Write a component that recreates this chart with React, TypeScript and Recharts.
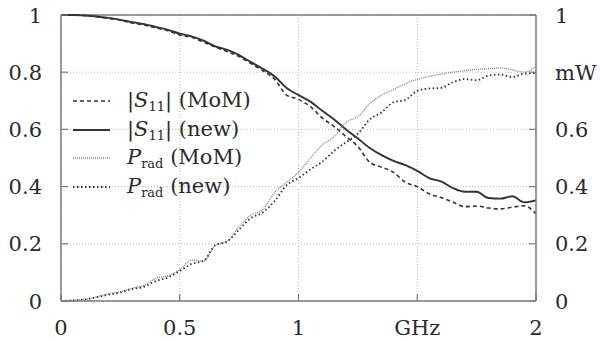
import React from "react";
import {
  LineChart, Line, XAxis, YAxis, CartesianGrid, ReferenceLine, Legend,
} from "recharts";

// frequency grid, GHz
const freq = [
  0, 0.05, 0.1, 0.15, 0.2, 0.25, 0.3, 0.35, 0.4, 0.45, 0.5, 0.55, 0.6, 0.65, 0.7,
  0.75, 0.8, 0.85, 0.9, 0.95, 1, 1.05, 1.1, 1.15, 1.2, 1.25, 1.3, 1.35, 1.4, 1.45,
  1.5, 1.55, 1.6, 1.65, 1.7, 1.75, 1.8, 1.85, 1.9, 1.95, 2,
];

// |S11| reference (MoM) and new method
const s11Mom = [
  1.0, 1.0, 0.998, 0.994, 0.988, 0.982, 0.972, 0.965, 0.955, 0.945, 0.93, 0.922, 0.905,
  0.888, 0.872, 0.855, 0.83, 0.805, 0.775, 0.72, 0.705, 0.68, 0.64, 0.61, 0.575, 0.54,
  0.485, 0.468, 0.45, 0.415, 0.4, 0.375, 0.362, 0.346, 0.33, 0.332, 0.325, 0.322, 0.328,
  0.333, 0.305,
];
const s11New = [
  1.0, 1.0, 0.998, 0.995, 0.99, 0.983, 0.975, 0.968, 0.958, 0.948, 0.935, 0.925, 0.91,
  0.89, 0.878, 0.86, 0.835, 0.812, 0.785, 0.745, 0.72, 0.697, 0.665, 0.635, 0.6, 0.568,
  0.535, 0.51, 0.49, 0.475, 0.455, 0.43, 0.418, 0.395, 0.382, 0.382, 0.36, 0.358, 0.366,
  0.345, 0.352,
];

// radiated power, mW
const pMom = [
  0, 0.002, 0.006, 0.015, 0.025, 0.032, 0.045, 0.055, 0.08, 0.088, 0.11, 0.142, 0.14,
  0.195, 0.21, 0.26, 0.3, 0.32, 0.38, 0.415, 0.45, 0.5, 0.545, 0.575, 0.625, 0.645, 0.69,
  0.72, 0.74, 0.76, 0.775, 0.785, 0.793, 0.8, 0.805, 0.81, 0.812, 0.815, 0.808, 0.8, 0.82,
];
const pNew = [
  0, 0.002, 0.005, 0.013, 0.022, 0.03, 0.042, 0.05, 0.07, 0.082, 0.105, 0.13, 0.14,
  0.195, 0.208, 0.25, 0.29, 0.31, 0.35, 0.405, 0.43, 0.46, 0.487, 0.525, 0.555, 0.585,
  0.635, 0.66, 0.695, 0.703, 0.735, 0.743, 0.745, 0.765, 0.776, 0.772, 0.788, 0.792,
  0.783, 0.795, 0.797,
];

const xTicks = [0, 0.5, 1, 1.5, 2];
const yTicks = [0, 0.2, 0.4, 0.6, 0.8, 1];

const data = freq.map((f, i) => ({
  f, s11Mom: s11Mom[i], s11New: s11New[i], pMom: pMom[i], pNew: pNew[i],
}));

const FONT = "DejaVu Serif";
const INK = "#2a2a2a";
const BORDER = "#7a7a7a";

const xLabel = (v: number) => (v === 1.5 ? "GHz" : String(v));
const rightLabel = (v: number) => (v === 0.8 ? "mW" : String(v));

// gnuplot style: labels outside, short ticks pointing into the plot
function LeftTick({ x, y, payload }: any) {
  return (
    <g>
      <line x1={x + 19} x2={x + 26} y1={y} y2={y} stroke={BORDER} strokeWidth={1.2} />
      <text x={x} y={y} dy="0.36em" textAnchor="end" fill={INK} fontFamily={FONT} fontSize={21}>
        {String(payload.value)}
      </text>
    </g>
  );
}
function RightTick({ x, y, payload }: any) {
  return (
    <g>
      <line x1={x - 19} x2={x - 26} y1={y} y2={y} stroke={BORDER} strokeWidth={1.2} />
      <text x={x} y={y} dy="0.36em" textAnchor="start" fill={INK} fontFamily={FONT} fontSize={21}>
        {rightLabel(payload.value)}
      </text>
    </g>
  );
}
function BottomTick({ x, y, payload }: any) {
  return (
    <g>
      <line x1={x} x2={x} y1={y - 18} y2={y - 25} stroke={BORDER} strokeWidth={1.2} />
      <text x={x} y={y} dy="0.78em" textAnchor="middle" fill={INK} fontFamily={FONT} fontSize={21}>
        {xLabel(payload.value)}
      </text>
    </g>
  );
}

const legendRows = [
  { key: "s11Mom", dash: "4 3", color: "#333", width: 1.6, sym: "S", sub: "11", abs: true, tag: "(MoM)" },
  { key: "s11New", dash: undefined, color: "#333", width: 2, sym: "S", sub: "11", abs: true, tag: "(new)" },
  { key: "pMom", dash: "1 1", color: "#8a8a8a", width: 1.4, sym: "P", sub: "rad", abs: false, tag: "(MoM)" },
  { key: "pNew", dash: "1.5 2.5", color: "#333", width: 1.8, sym: "P", sub: "rad", abs: false, tag: "(new)" },
];

function LegendBox() {
  return (
    <div style={{ fontFamily: FONT, fontSize: 21, color: INK, textAlign: "left" }}>
      {legendRows.map((r) => (
        <div key={r.key} style={{ display: "flex", alignItems: "center", height: 28.5 }}>
          <svg width={37} height={8} style={{ marginRight: 17 }}>
            <line x1={0} y1={4} x2={37} y2={4} stroke={r.color} strokeWidth={r.width}
              strokeDasharray={r.dash} />
          </svg>
          <span style={{ whiteSpace: "nowrap" }}>
            {r.abs ? "|" : ""}
            <i>{r.sym}</i>
            <sub style={{ fontSize: 13, verticalAlign: "-0.3em" }}>{r.sub}</sub>
            {r.abs ? "|" : ""} {r.tag}
          </span>
        </div>
      ))}
    </div>
  );
}

export default function App() {
  return (
    <div style={{ position: "absolute", left: 0, top: 0, background: "#fff" }}>
      <LineChart width={600} height={342} data={data}
        margin={{ top: 15, right: 0, bottom: 11, left: 11 }}>
        <CartesianGrid yAxisId="left" stroke="#b8b8b8" strokeDasharray="1 2"
          horizontalValues={yTicks} verticalValues={xTicks} />
        <XAxis dataKey="f" type="number" domain={[0, 2]} ticks={xTicks} height={30}
          axisLine={{ stroke: BORDER, strokeWidth: 1.5 }} tickLine={false}
          tickSize={0} tickMargin={18} tick={<BottomTick />} interval={0} />
        <YAxis yAxisId="left" type="number" domain={[0, 1]} ticks={yTicks} width={50}
          axisLine={{ stroke: BORDER, strokeWidth: 1.5 }} tickLine={false}
          tickSize={0} tickMargin={19} tick={<LeftTick />} interval={0} />
        <YAxis yAxisId="right" orientation="right" type="number" domain={[0, 1]}
          ticks={yTicks} width={64} axisLine={{ stroke: BORDER, strokeWidth: 1.5 }}
          tickLine={false} tickSize={0} tickMargin={19} tick={<RightTick />} interval={0} />
        {/* top border of the box */}
        <ReferenceLine yAxisId="left" y={1} stroke={BORDER} strokeWidth={1.5} />

        <Legend content={<LegendBox />} layout="horizontal" verticalAlign="middle" align="center"
          wrapperStyle={{ left: 73, top: 87, width: 220 }} />

        <Line yAxisId="left" dataKey="s11Mom" type="monotone" stroke="#333" strokeWidth={1.6}
          strokeDasharray="4 3" dot={false} isAnimationActive={false} />
        <Line yAxisId="left" dataKey="s11New" type="monotone" stroke="#333" strokeWidth={1.9}
          dot={false} isAnimationActive={false} />
        <Line yAxisId="right" dataKey="pMom" type="monotone" stroke="#8a8a8a" strokeWidth={1.4}
          strokeDasharray="1 1" dot={false} isAnimationActive={false} />
        <Line yAxisId="right" dataKey="pNew" type="monotone" stroke="#333" strokeWidth={1.8}
          strokeDasharray="1.5 2.5" dot={false} isAnimationActive={false} />
      </LineChart>
    </div>
  );
}
